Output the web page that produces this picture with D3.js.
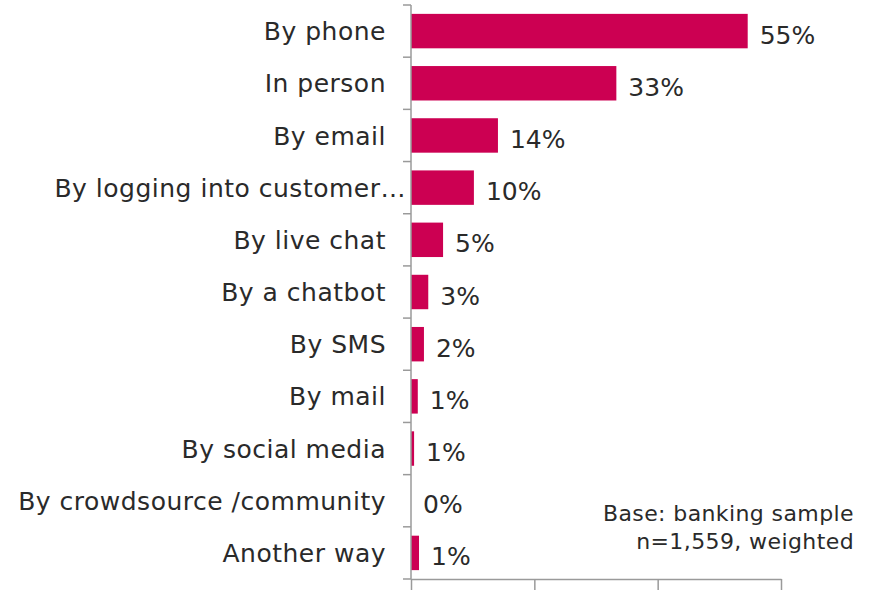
<!DOCTYPE html>
<html>
<head>
<meta charset="utf-8">
<script src="https://cdn.jsdelivr.net/npm/d3@7"></script>
<style>
  html, body { margin: 0; padding: 0; background: #fff; }
  svg { display: block; }
  text { font-family: "DejaVu Sans", sans-serif; font-weight: 400; fill: #2a2a2a; }
</style>
</head>
<body>
<svg id="chart" width="869" height="590"></svg>
<script>
// Contact channels (banking sample), share of respondents in %
const categories = [
  "By phone",
  "In person",
  "By email",
  "By logging into customer…",
  "By live chat",
  "By a chatbot",
  "By SMS",
  "By mail",
  "By social media",
  "By crowdsource /community",
  "Another way"
];
const values = [54.6, 33.3, 14.1, 10.2, 5.2, 2.8, 2.1, 1.1, 0.5, 0, 1.3];
const xTicks = [0, 20, 40, 60];
const noteLines = ["Base: banking sample", "n=1,559, weighted"];

const barColor = "#cc0052";
const axisColor = "#9a9a9a";

const svg = d3.select("#chart");
const plotLeft = 411, plotRight = 781, plotTop = 5, plotBottom = 579;

const x = d3.scaleLinear().domain([0, 60]).range([plotLeft, plotRight]);

// Category slots (tick boundaries) and bars centred inside them
const slots = d3.scaleBand().domain(categories).range([plotTop, plotBottom]).padding(0);
const y = d3.scaleBand().domain(categories).range([plotTop, plotBottom])
  .paddingInner(0.34).paddingOuter(0.17);

// Bars
svg.append("g").selectAll("rect")
  .data(categories)
  .join("rect")
  .attr("x", x(0))
  .attr("y", d => y(d))
  .attr("width", (d, i) => x(values[i]) - x(0))
  .attr("height", y.bandwidth())
  .attr("fill", barColor);

// Bottom axis
const xAxis = svg.append("g")
  .attr("transform", `translate(0,${plotBottom})`)
  .call(d3.axisBottom(x).tickValues(xTicks).tickFormat("").tickSize(12).tickSizeOuter(0));
xAxis.select(".domain").attr("stroke", axisColor).attr("stroke-width", 1.5);
xAxis.selectAll(".tick line").attr("stroke", axisColor).attr("stroke-width", 1.5);

// Left axis with ticks at category boundaries
const yAxis = svg.append("g");
yAxis.append("line")
  .attr("x1", plotLeft).attr("x2", plotLeft)
  .attr("y1", plotTop).attr("y2", plotBottom)
  .attr("stroke", axisColor).attr("stroke-width", 1.5);
const boundaries = categories.map(d => slots(d)).concat([plotBottom]);
yAxis.selectAll("line.tick")
  .data(boundaries)
  .join("line")
  .attr("class", "tick")
  .attr("x1", plotLeft - 8).attr("x2", plotLeft)
  .attr("y1", d => d).attr("y2", d => d)
  .attr("stroke", axisColor).attr("stroke-width", 1.5);

// Category labels
svg.append("g").selectAll("text")
  .data(categories)
  .join("text")
  .attr("x", d => d.endsWith("…") ? plotLeft - 5 : plotLeft - 25)
  .attr("y", d => y(d) + y.bandwidth() / 2)
  .attr("dy", "0.365em")
  .attr("text-anchor", "end")
  .style("font-size", "25px")
  .style("letter-spacing", "0.5px")
  .text(d => d);

// Value labels
svg.append("g").selectAll("text")
  .data(categories)
  .join("text")
  .attr("x", (d, i) => x(values[i]) + 12)
  .attr("y", d => y(d) + y.bandwidth() / 2)
  .attr("dy", "0.5em")
  .style("font-size", "25px")
  .text((d, i) => Math.round(values[i]) + "%");

// Sample note
svg.append("g").selectAll("text")
  .data(noteLines)
  .join("text")
  .attr("x", 854)
  .attr("y", (d, i) => 521 + i * 27.5)
  .attr("text-anchor", "end")
  .style("font-size", "22px")
  .style("letter-spacing", "0.4px")
  .text(d => d);
</script>
</body>
</html>
